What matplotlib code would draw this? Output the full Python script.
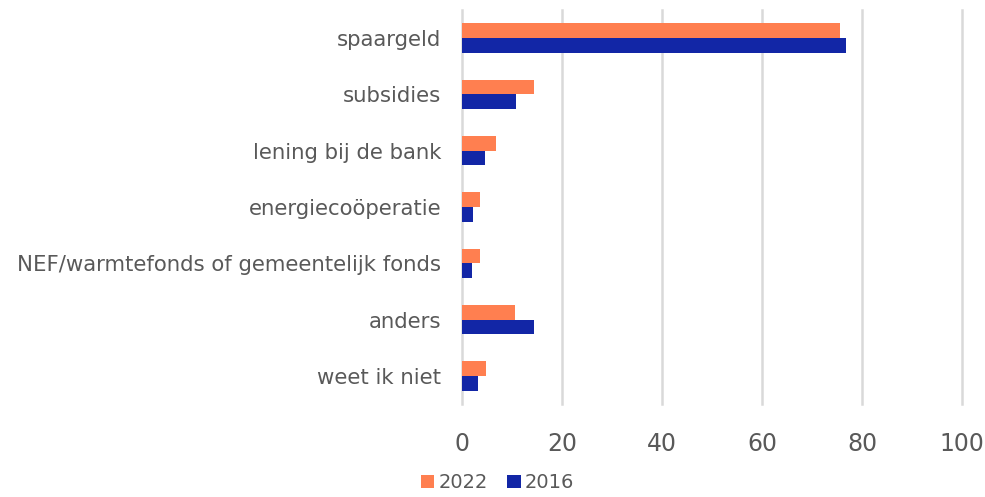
import numpy as np
import matplotlib.pyplot as plt

plt.rcParams["font.family"] = "DejaVu Sans"

# Bronnen van financiering (%)
categorieen = ["spaargeld", "subsidies", "lening bij de bank", "energiecoöperatie",
               "NEF/warmtefonds of gemeentelijk fonds", "anders", "weet ik niet"]
waarden_2022 = [75.6, 14.4, 6.9, 3.7, 3.7, 10.7, 4.8]
waarden_2016 = [76.8, 10.9, 4.7, 2.3, 2.0, 14.5, 3.3]

kleur_2022 = "#FF7F50"
kleur_2016 = "#1226A6"
grijs = "#595959"

fig = plt.figure(figsize=(9.85, 4.97), dpi=100)
ax = fig.add_axes([0.469, 0.187, 0.5076, 0.793])

y = np.arange(len(categorieen))
h = 0.26
ax.barh(y - h / 2, waarden_2022, height=h, color=kleur_2022, label="2022", zorder=3)
ax.barh(y + h / 2, waarden_2016, height=h, color=kleur_2016, label="2016", zorder=3)

ax.set_xlim(0, 100)
ax.set_ylim(len(categorieen) - 0.5, -0.5)
ax.set_xticks(np.arange(0, 101, 20))
ax.set_yticks(y)
ax.set_yticklabels(categorieen)
ax.tick_params(axis="y", length=0, pad=15, labelsize=15.3, labelcolor=grijs)
ax.tick_params(axis="x", length=0, pad=20, labelsize=17, labelcolor=grijs)
for g in np.arange(0, 101, 20):
    ax.axvline(g, color="#D9D9D9", linewidth=1.8, zorder=0, clip_on=False)
for s in ax.spines.values():
    s.set_visible(False)

fig.legend(loc="lower center", bbox_to_anchor=(0.505, -0.026), ncol=2, frameon=False,
           fontsize=14, labelcolor=grijs, handlelength=0.7, handleheight=0.7,
           handletextpad=0.2, columnspacing=1.0)

fig.savefig("out.png", dpi=100)
